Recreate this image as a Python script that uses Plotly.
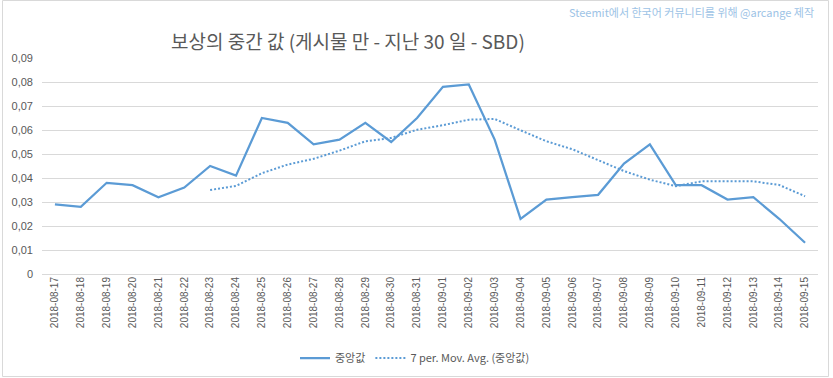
import plotly.graph_objects as go

dates = ["2018-08-17","2018-08-18","2018-08-19","2018-08-20","2018-08-21","2018-08-22","2018-08-23",
         "2018-08-24","2018-08-25","2018-08-26","2018-08-27","2018-08-28","2018-08-29","2018-08-30",
         "2018-08-31","2018-09-01","2018-09-02","2018-09-03","2018-09-04","2018-09-05","2018-09-06",
         "2018-09-07","2018-09-08","2018-09-09","2018-09-10","2018-09-11","2018-09-12","2018-09-13",
         "2018-09-14","2018-09-15"]
median_vals = [0.029,0.028,0.038,0.037,0.032,0.036,0.045,0.041,0.065,0.063,0.054,0.056,0.063,0.055,
               0.065,0.078,0.079,0.056,0.023,0.031,0.032,0.033,0.046,0.054,0.037,0.037,0.031,0.032,
               0.023,0.013]
mov_avg = [None,None,None,None,None,None,0.035,0.0367,0.042,0.0456,0.048,0.0514,0.0553,0.0567,
           0.0601,0.062,0.0643,0.0646,0.0599,0.0553,0.052,0.0474,0.0429,0.0393,0.0366,0.0386,
           0.0386,0.0386,0.0371,0.0324]
y_ticks = [0,0.01,0.02,0.03,0.04,0.05,0.06,0.07,0.08,0.09]
y_tick_labels = ["0","0,01","0,02","0,03","0,04","0,05","0,06","0,07","0,08","0,09"]

title_text = "보상의 중간 값 (게시물 만 - 지난 30 일 - SBD)"
watermark = "Steemit에서 한국어 커뮤니티를 위해 @arcange 제작"

CJK = "Noto Sans CJK KR"
blue = "#5B9BD5"

fig = go.Figure()
fig.add_trace(go.Scatter(x=dates, y=median_vals, mode="lines", name="중앙값",
                         line=dict(color=blue, width=2.25)))
fig.add_trace(go.Scatter(x=dates, y=mov_avg, mode="lines", name="7 per. Mov. Avg. (중앙값)",
                         line=dict(color=blue, width=2, dash="2px,2px"), connectgaps=False))

W, H = 833, 378
ml, mr, mt, mb = 42, 15, 58, 104
pw = W - ml - mr
ph = H - mt - mb

def px_to_paper_x(px):
    return (px - ml) / pw

def py_to_paper_y(py):
    return (H - mb - py) / ph

fig.update_layout(
    width=W, height=H,
    margin=dict(l=ml, r=mr, t=mt, b=mb, pad=0, autoexpand=False),
    paper_bgcolor="white", plot_bgcolor="white",
    font=dict(family=CJK, color="#595959"),
    showlegend=True,
    legend=dict(orientation="h", x=px_to_paper_x(415), xanchor="center",
                y=py_to_paper_y(358), yanchor="middle",
                font=dict(family=CJK, size=11, color="#595959"),
                itemwidth=30, bgcolor="rgba(0,0,0,0)"),
    xaxis=dict(type="category", tickangle=-90, showgrid=False, showline=False,
               ticks="", tickfont=dict(family="Liberation Sans Narrow, Liberation Sans", size=10, color="#595959"),
               range=[-0.5, len(dates) - 0.5], fixedrange=True, automargin=False),
    yaxis=dict(range=[0, 0.09], tickvals=y_ticks, ticktext=y_tick_labels,
               showgrid=True, gridcolor="#D9D9D9", gridwidth=1, zeroline=True,
               zerolinecolor="#D9D9D9", zerolinewidth=1, showline=False, ticks="",
               tickfont=dict(family="Liberation Sans", size=11, color="#595959"),
               ticklabelstandoff=8, fixedrange=True, automargin=False),
    annotations=[
        dict(text=title_text, xref="paper", yref="paper", x=px_to_paper_x(348), y=py_to_paper_y(40),
             xanchor="center", yanchor="middle", showarrow=False,
             font=dict(family=CJK, size=19, color="#595959")),
        dict(text=watermark, xref="paper", yref="paper", x=px_to_paper_x(816), y=py_to_paper_y(12),
             xanchor="right", yanchor="middle", showarrow=False,
             font=dict(family=CJK, size=11, color="#9DC3E6")),
    ],
    shapes=[
        dict(type="rect", xref="paper", yref="paper",
             x0=px_to_paper_x(2.5), x1=px_to_paper_x(828.5),
             y0=py_to_paper_y(376.5), y1=py_to_paper_y(0.5),
             line=dict(color="#D9D9D9", width=1), fillcolor="rgba(0,0,0,0)", layer="below"),
    ],
)

fig.write_html("out.html", config={"displayModeBar": False},
               post_script="document.body.style.margin='0';document.body.style.overflow='hidden';")
